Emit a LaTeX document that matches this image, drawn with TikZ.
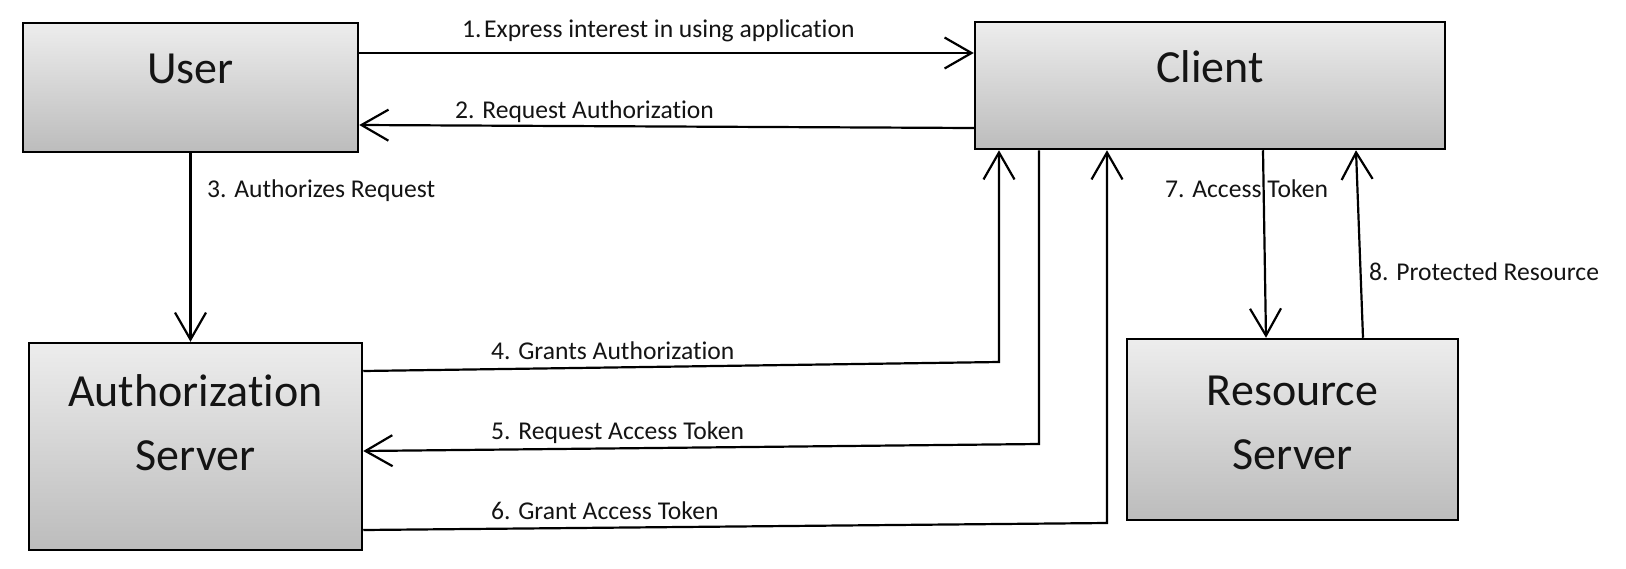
\documentclass[tikz,border=0pt]{standalone}
\usepackage{fontspec}
\setmainfont{Carlito}[Ligatures=NoCommon]
\usetikzlibrary{arrows.meta}
\definecolor{boxtop}{HTML}{EDEDED}
\definecolor{boxbot}{HTML}{BCBCBC}
\definecolor{txt}{HTML}{141414}
\begin{document}
\begin{tikzpicture}[x=1pt,y=-1pt,
  box/.style={draw=black, line width=2.5pt, rectangle, top color=boxtop, bottom color=boxbot, inner sep=0pt},
  boxtext/.style={font=\fontsize{46}{55}\selectfont, text=txt, anchor=base, inner sep=0pt},
  lab/.style={font=\fontsize{25.6}{30}\selectfont, text=txt, anchor=base west, inner sep=0pt},
  arr/.style={line width=2.2pt, -{Straight Barb[length=27pt,width=31pt]}, line join=miter}
]
\useasboundingbox[fill=white] (0,0) rectangle (1626,568);

% boxes
\node[box, minimum width=335pt, minimum height=129pt] (user) at (190.5,87.5) {};
\node[box, minimum width=470pt, minimum height=127pt] (client) at (1210,85.5) {};
\node[box, minimum width=333pt, minimum height=207pt] (auth) at (195.5,446.5) {};
\node[box, minimum width=331pt, minimum height=181pt] (res) at (1292.5,429.5) {};

% box texts
\node[boxtext] (tuser) at (190.5,83) {User};
\node[boxtext] (tclient) at (1210,82) {Client};
\node[boxtext] (tauth1) at (195.5,406) {Authorization};
\node[boxtext] (tauth2) at (195.5,470) {Server};
\node[boxtext] (tres1) at (1292.5,405) {Resource};
\node[boxtext] (tres2) at (1292.5,469) {Server};

% connectors
\draw[arr] ([yshift=34.5pt]user.east) -- ([yshift=32.5pt]client.west);
\draw[arr] ([yshift=-42.5pt]client.west) -- ([yshift=-37.5pt]user.east);
\draw[arr] (user.south) -- (user.south |- auth.north);
\coordinate (k4) at (999,362);
\draw[arr] ([yshift=75.5pt]auth.east) -- (k4) -- (k4 |- client.south);
\coordinate (k5) at (1039,444);
\draw[arr] (k5 |- client.south) -- (k5) -- ([yshift=-4.5pt]auth.east);
\coordinate (k6) at (1107,523);
\draw[arr] ([yshift=-83.5pt]auth.east) -- (k6) -- (k6 |- client.south);
\draw[arr] ([xshift=53pt]client.south) -- ([xshift=-26.5pt]res.north);
\draw[arr] ([xshift=70.5pt]res.north) -- ([xshift=146pt]client.south);

% labels
\node[lab] (l1) at (462,37) {1.\hspace{0.1em}Express interest in using application};
\node[lab] (l2) at (455,118) {2. Request Authorization};
\node[lab] (l3) at (207,197) {3. Authorizes Request};
\node[lab] (l4) at (491,359) {4. Grants Authorization};
\node[lab] (l5) at (491,439) {5. Request Access Token};
\node[lab] (l6) at (491,519) {6. Grant Access Token};
\node[lab] (l7) at (1165,197) {7. Access Token};
\node[lab] (l8) at (1369,280) {8. Protected Resource};
\end{tikzpicture}
\end{document}
